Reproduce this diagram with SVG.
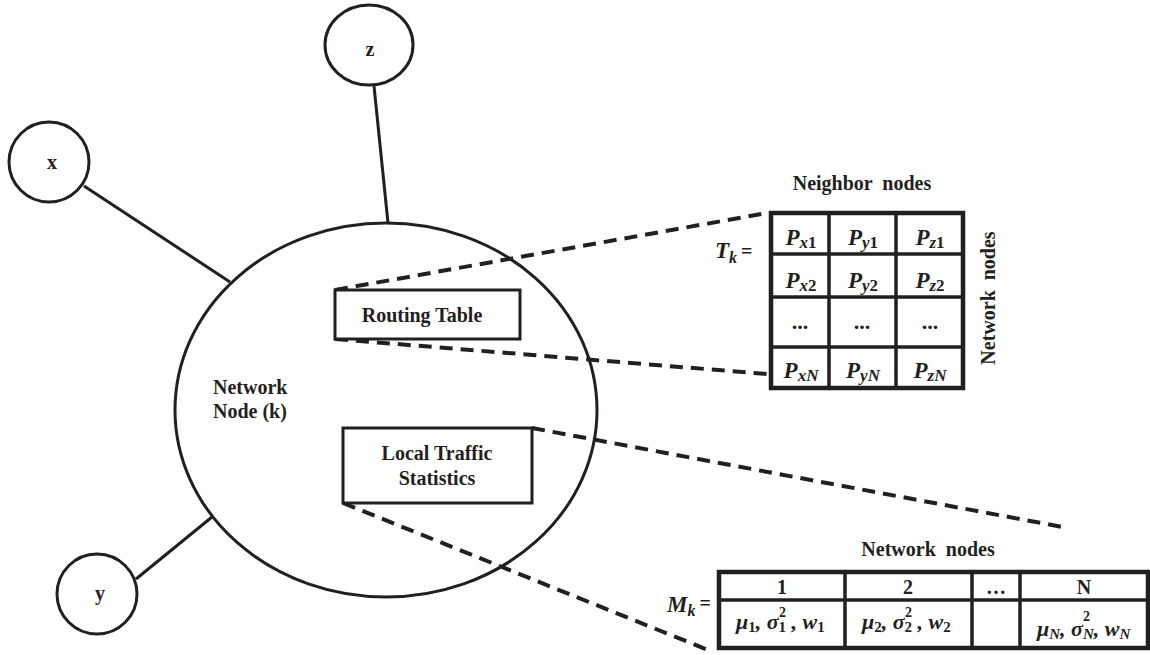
<svg xmlns="http://www.w3.org/2000/svg" width="1150" height="655" viewBox="0 0 1150 655">
<style>
.ln{stroke:#231f20;stroke-width:3;fill:none}
.nd{stroke:#231f20;stroke-width:3;fill:#fff}
.box{stroke:#231f20;stroke-width:3;fill:#fff}
.dash{stroke:#231f20;stroke-width:4;fill:none;stroke-dasharray:13 8}
.tb{stroke:#231f20;stroke-width:4.5;fill:none}
.tl{stroke:#231f20;stroke-width:3.5;fill:none}
.t{font-family:"Liberation Serif",serif;font-weight:bold;fill:#231f20}
.m{font-family:"Liberation Serif","DejaVu Serif",serif;font-weight:bold;font-style:italic;fill:#231f20}
.up{font-style:normal}
</style>
<rect width="1150" height="655" fill="#fff"/>
<g id="connectors">
<line class="ln" x1="84" y1="186" x2="230" y2="282"/>
<line class="ln" x1="374" y1="86" x2="388" y2="223"/>
<line class="ln" x1="136" y1="579" x2="212" y2="517"/>
</g>
<g id="node-k">
<ellipse class="nd" cx="386" cy="410" rx="211" ry="187"/>
<text class="t" x="213" y="394" font-size="20">Network</text>
<text class="t" x="213" y="418" font-size="20">Node (k)</text>
</g>
<g id="node-x">
<circle class="nd" cx="49" cy="162" r="40"/>
<text class="t" x="52" y="169" font-size="20" text-anchor="middle">x</text>
</g>
<g id="node-z">
<ellipse class="nd" cx="369" cy="45" rx="44" ry="40"/>
<text class="t" x="370" y="56" font-size="20" text-anchor="middle">z</text>
</g>
<g id="node-y">
<circle class="nd" cx="97" cy="594" r="40"/>
<text class="t" x="100" y="600" font-size="20" text-anchor="middle">y</text>
</g>
<g id="dashed-links">
<line class="dash" x1="335" y1="290" x2="767" y2="213"/>
<line class="dash" x1="335" y1="339" x2="767" y2="374"/>
<line class="dash" x1="532" y1="428" x2="1068" y2="528"/>
<line class="dash" x1="343" y1="503" x2="713" y2="652"/>
</g>
<g id="routing-table">
<rect class="box" x="335" y="290" width="185" height="49"/>
<text class="t" x="422" y="322" font-size="20" text-anchor="middle">Routing Table</text>
</g>
<g id="local-traffic">
<rect class="box" x="343" y="428" width="189" height="75"/>
<text class="t" x="437" y="460" font-size="20" text-anchor="middle">Local Traffic</text>
<text class="t" x="437" y="485" font-size="20" text-anchor="middle">Statistics</text>
</g>
<g id="table-T">
<text class="t" x="862" y="190" font-size="20" text-anchor="middle" xml:space="preserve">Neighbor  nodes</text>
<text class="t" x="0" y="0" font-size="20" text-anchor="middle" transform="translate(995,298) rotate(-90)" xml:space="preserve">Network  nodes</text>
<text class="m" x="715" y="258" font-size="23">T<tspan font-size="16" dy="5">k</tspan><tspan class="up" font-size="20" dx="4" dy="-5">=</tspan></text>
<rect class="tb" x="771" y="213" width="192" height="175"/>
<line class="tl" x1="829" y1="213" x2="829" y2="388"/>
<line class="tl" x1="896" y1="213" x2="896" y2="388"/>
<line class="tl" x1="771" y1="254" x2="963" y2="254"/>
<line class="tl" x1="771" y1="297" x2="963" y2="297"/>
<line class="tl" x1="771" y1="347" x2="963" y2="347"/>
<g font-size="23">
<text class="m" x="801" y="245" text-anchor="middle">P<tspan font-size="17" dy="3">x</tspan><tspan class="up" font-size="17">1</tspan></text>
<text class="m" x="863" y="245" text-anchor="middle">P<tspan font-size="17" dy="3">y</tspan><tspan class="up" font-size="17">1</tspan></text>
<text class="m" x="930" y="245" text-anchor="middle">P<tspan font-size="17" dy="3">z</tspan><tspan class="up" font-size="17">1</tspan></text>
<text class="m" x="801" y="288" text-anchor="middle">P<tspan font-size="17" dy="3">x</tspan><tspan class="up" font-size="17">2</tspan></text>
<text class="m" x="863" y="288" text-anchor="middle">P<tspan font-size="17" dy="3">y</tspan><tspan class="up" font-size="17">2</tspan></text>
<text class="m" x="930" y="288" text-anchor="middle">P<tspan font-size="17" dy="3">z</tspan><tspan class="up" font-size="17">2</tspan></text>
<text class="t" x="800" y="329" text-anchor="middle" font-size="22">...</text>
<text class="t" x="862" y="329" text-anchor="middle" font-size="22">...</text>
<text class="t" x="930" y="329" text-anchor="middle" font-size="22">...</text>
<text class="m" x="801" y="378" text-anchor="middle">P<tspan font-size="17" dy="3">xN</tspan></text>
<text class="m" x="863" y="378" text-anchor="middle">P<tspan font-size="17" dy="3">yN</tspan></text>
<text class="m" x="930" y="378" text-anchor="middle">P<tspan font-size="17" dy="3">zN</tspan></text>
</g>
</g>
<g id="table-M">
<text class="t" x="928" y="556" font-size="20" text-anchor="middle" xml:space="preserve">Network  nodes</text>
<text class="m" x="667" y="612" font-size="23">M<tspan font-size="16" dy="4">k</tspan><tspan class="up" font-size="20" dx="4" dy="-6">=</tspan></text>
<rect class="tb" x="719" y="572" width="429" height="76"/>
<line class="tl" x1="719" y1="600" x2="1148" y2="600"/>
<line class="tl" x1="845" y1="572" x2="845" y2="648"/>
<line class="tl" x1="972" y1="572" x2="972" y2="648"/>
<line class="tl" x1="1020" y1="572" x2="1020" y2="648"/>
<g font-size="20">
<text class="t" x="782" y="594" text-anchor="middle">1</text>
<text class="t" x="908" y="594" text-anchor="middle">2</text>
<text class="t" x="996" y="594" text-anchor="middle">…</text>
<text class="t" x="1084" y="594" text-anchor="middle">N</text>
</g>
<g font-size="22">
<text class="m" x="736" y="629">μ<tspan class="up" font-size="15" dy="3">1</tspan><tspan dy="-3">, σ</tspan><tspan class="up" font-size="15" dy="3">1</tspan><tspan dy="-3"> , w</tspan><tspan class="up" font-size="15" dy="3">1</tspan></text>
<text class="t" x="779" y="617" font-size="14">2</text>
<text class="m" x="862" y="629">μ<tspan class="up" font-size="15" dy="3">2</tspan><tspan dy="-3">, σ</tspan><tspan class="up" font-size="15" dy="3">2</tspan><tspan dy="-3"> , w</tspan><tspan class="up" font-size="15" dy="3">2</tspan></text>
<text class="t" x="905" y="617" font-size="14">2</text>
<text class="m" x="1037" y="636">μ<tspan font-size="15" dy="3">N</tspan><tspan dy="-3">, σ</tspan><tspan font-size="15" dy="3">N</tspan><tspan dy="-3">, w</tspan><tspan font-size="15" dy="3">N</tspan></text>
<text class="t" x="1083" y="621" font-size="14">2</text>
</g>
</g>
</svg>
